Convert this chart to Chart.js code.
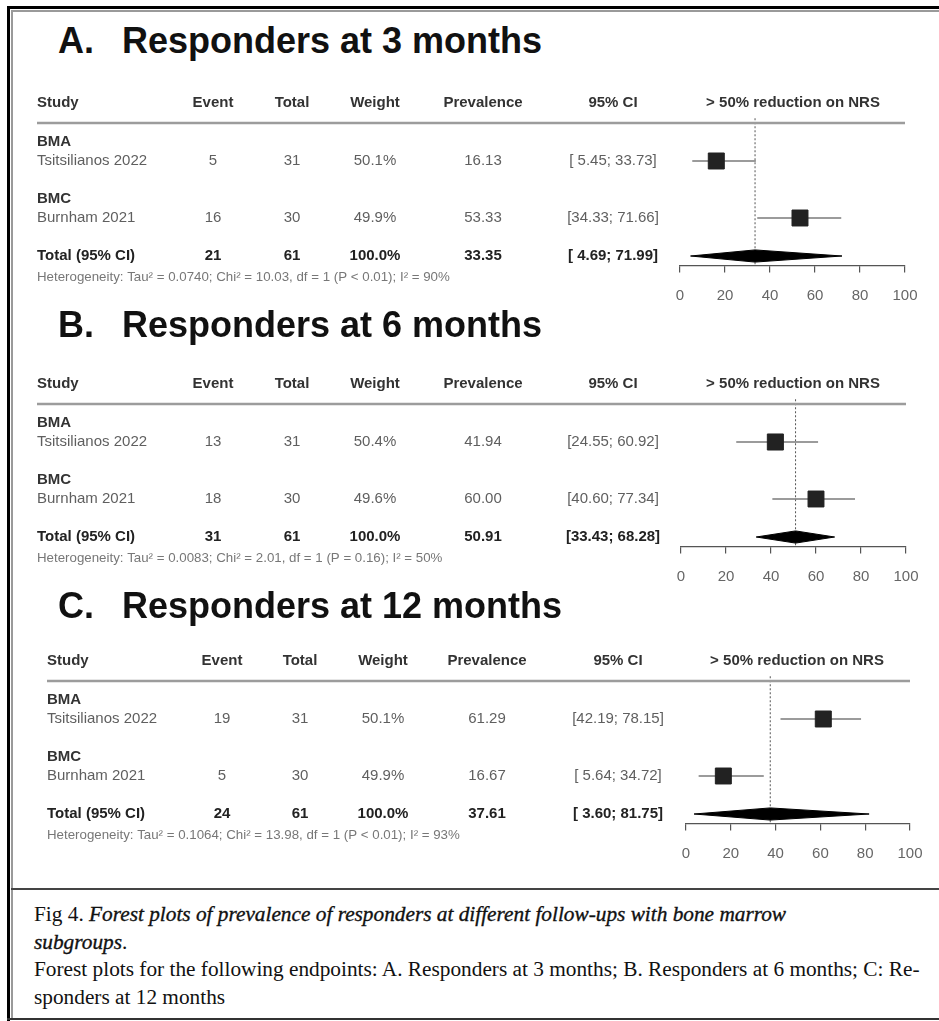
<!DOCTYPE html>
<html>
<head>
<meta charset="utf-8">
<title>Forest plots of responders</title>
<script src="https://cdn.jsdelivr.net/npm/chart.js@4.4.1/dist/chart.umd.min.js"></script>
<style>
  html, body { margin: 0; padding: 0; background: #fff; }
  body { width: 939px; height: 1021px; position: relative; overflow: hidden; }
  .rule { position: absolute; }
  .panel { position: absolute; left: 0; width: 939px; height: 250px; }
  .title { position: absolute; font: bold 36px/36px "Liberation Sans", Arial, sans-serif; color: #111; white-space: nowrap; }
  .caption { position: absolute; left: 34px; top: 901px; font: 21.3px/27.7px "Liberation Serif", "Times New Roman", serif; color: #111; white-space: nowrap; }
  .caption i { font-style: italic; -webkit-text-stroke: 0.35px #111; }
</style>
</head>
<body>
<!-- figure frame -->
<div class="rule" style="left:7px;top:6px;width:3px;height:1015px;background:#000"></div>
<div class="rule" style="left:7px;top:6px;width:932px;height:3px;background:#000"></div>
<div class="rule" style="left:11px;top:10px;width:2px;height:1009px;background:#9a9a9a"></div>
<div class="rule" style="left:11px;top:10px;width:928px;height:2px;background:#9a9a9a"></div>
<div class="rule" style="left:11px;top:888px;width:928px;height:2px;background:#444"></div>
<div class="rule" style="left:7px;top:1018px;width:932px;height:2px;background:#333"></div>

<div class="caption">Fig 4. <i>Forest plots of prevalence of responders at different follow-ups with bone marrow</i><br><i>subgroups</i>.<br>Forest plots for the following endpoints: A. Responders at 3 months; B. Responders at 6 months; C: Re-<br>sponders at 12 months</div>

<script>
// ---- data ----
const panelLetters = ["A.", "B.", "C."];
const panelTitles = ["Responders at 3 months", "Responders at 6 months", "Responders at 12 months"];
const columnHeaders = ["Study", "Event", "Total", "Weight", "Prevalence", "95% CI", "> 50% reduction on NRS"];
const subgroupNames = ["BMA", "BMC"];
const studyNames = ["Tsitsilianos 2022", "Burnham 2021"];
const xTicks = [0, 20, 40, 60, 80, 100];

// 3 months
const events3 = [5, 16];
const totals3 = [31, 30];
const weights3 = [50.1, 49.9];
const prev3 = [16.13, 53.33];
const lower3 = [5.45, 34.33];
const upper3 = [33.73, 71.66];

// 6 months
const events6 = [13, 18];
const totals6 = [31, 30];
const weights6 = [50.4, 49.6];
const prev6 = [41.94, 60.00];
const lower6 = [24.55, 40.60];
const upper6 = [60.92, 77.34];

// 12 months
const events12 = [19, 5];
const totals12 = [31, 30];
const weights12 = [50.1, 49.9];
const prev12 = [61.29, 16.67];
const lower12 = [42.19, 5.64];
const upper12 = [78.15, 34.72];

// pooled random-effects estimates (3, 6, 12 months)
const pooledEvents = [21, 31, 24];
const pooledTotals = [61, 61, 61];
const pooledPrev = [33.35, 50.91, 37.61];
const pooledLower = [4.69, 33.43, 3.60];
const pooledUpper = [71.99, 68.28, 81.75];

// heterogeneity statistics
const tau2 = ["0.0740", "0.0083", "0.1064"];
const chi2 = ["10.03", "2.01", "13.98"];
const pValues = ["P < 0.01", "P = 0.16", "P < 0.01"];
const i2 = [90, 50, 93];

// ---- layout of each panel (page pixels) ----
const layouts = [
  { row1: 142, study: 37, cols: [213, 292, 375, 483, 613, 793], ruleL: 37, ruleR: 905, plotL: 680, plotR: 905, titleBase: 53 },
  { row1: 423, study: 37, cols: [213, 292, 375, 483, 613, 793], ruleL: 37, ruleR: 906, plotL: 681, plotR: 906, titleBase: 337 },
  { row1: 700, study: 47, cols: [222, 300, 383, 487, 618, 797], ruleL: 47, ruleR: 910, plotL: 686, plotR: 910, titleBase: 618 }
];

const panels = [
  { events: events3, totals: totals3, weights: weights3, prev: prev3, lower: lower3, upper: upper3 },
  { events: events6, totals: totals6, weights: weights6, prev: prev6, lower: lower6, upper: upper6 },
  { events: events12, totals: totals12, weights: weights12, prev: prev12, lower: lower12, upper: upper12 }
];

const FONT = "'Liberation Sans', Arial, sans-serif";
const CANVAS_W = 939, CANVAS_H = 250, ROW_OFFSET = 80;
const subgroupRows = [1, 4];
const studyRows = [2, 5];
const totalRow = 7;

function fmtCI(lo, hi) {
  const l = lo < 10 ? " " + lo.toFixed(2) : lo.toFixed(2);
  return "[" + l + "; " + hi.toFixed(2) + "]";
}

function text(ctx, s, x, y, align, font, color) {
  ctx.font = font;
  ctx.fillStyle = color;
  ctx.textAlign = align;
  ctx.textBaseline = "middle";
  ctx.fillText(s, x, y);
}

function buildPanel(p, i) {
  const L = layouts[i];

  // panel heading
  const letter = document.createElement("div");
  letter.className = "title";
  letter.style.left = "58px";
  letter.style.top = (L.titleBase - 30.5) + "px";
  letter.textContent = panelLetters[i];
  document.body.appendChild(letter);
  const heading = document.createElement("div");
  heading.className = "title";
  heading.style.left = "122px";
  heading.style.top = (L.titleBase - 30.5) + "px";
  heading.textContent = panelTitles[i];
  document.body.appendChild(heading);

  const wrap = document.createElement("div");
  wrap.className = "panel";
  wrap.style.top = (L.row1 - ROW_OFFSET) + "px";
  const cv = document.createElement("canvas");
  cv.width = CANVAS_W; cv.height = CANVAS_H;
  cv.style.width = CANVAS_W + "px"; cv.style.height = CANVAS_H + "px";
  wrap.appendChild(cv);
  document.body.appendChild(wrap);

  const est = pooledPrev[i], lo = pooledLower[i], hi = pooledUpper[i];
  const datasets = [];

  // study squares, sized by weight
  p.prev.forEach((v, k) => datasets.push({
    data: [{ x: v, y: studyRows[k] }],
    showLine: false, pointStyle: "rect",
    pointRadius: 11.3 * Math.sqrt(p.weights[k] / 50),
    backgroundColor: "#222", borderColor: "#222", borderWidth: 1, order: 0
  }));
  // confidence intervals
  p.prev.forEach((v, k) => datasets.push({
    data: [{ x: p.lower[k], y: studyRows[k] }, { x: p.upper[k], y: studyRows[k] }],
    showLine: true, pointRadius: 0, borderColor: "#7a7a7a", borderWidth: 1.5, order: 1
  }));
  // pooled diamond: upper half filled down to lower half
  datasets.push({
    data: [{ x: lo, y: totalRow }, { x: est, y: totalRow - 0.32 }, { x: hi, y: totalRow }],
    showLine: true, pointRadius: 0, borderColor: "#000", borderWidth: 1,
    backgroundColor: "#000", fill: "+1", order: 1
  });
  datasets.push({
    data: [{ x: lo, y: totalRow }, { x: est, y: totalRow + 0.32 }, { x: hi, y: totalRow }],
    showLine: true, pointRadius: 0, borderColor: "#000", borderWidth: 1, fill: false, order: 1
  });
  // dotted line at the pooled estimate
  datasets.push({
    data: [{ x: est, y: -0.25 }, { x: est, y: 7.45 }],
    showLine: true, pointRadius: 0, borderColor: "#555", borderWidth: 1,
    borderDash: [2, 2], order: 2
  });

  const tablePlugin = {
    id: "forestTable" + i,
    afterDraw(chart) {
      const ctx = chart.ctx;
      const ys = chart.scales.y;
      const ry = r => ys.getPixelForValue(r);
      const hdrFont = "bold 15px " + FONT;
      const rowFont = "15px " + FONT;
      const dark = "#333", grey = "#5f5f5f";
      ctx.save();

      // column headers
      const hy = ry(-1.05);
      text(ctx, columnHeaders[0], L.study, hy, "left", hdrFont, dark);
      for (let c = 1; c < columnHeaders.length; c++) {
        text(ctx, columnHeaders[c], L.cols[c - 1], hy, "center", hdrFont, dark);
      }
      // header rule
      ctx.strokeStyle = "#9c9c9c";
      ctx.lineWidth = 2.5;
      ctx.beginPath();
      ctx.moveTo(L.ruleL, ry(0));
      ctx.lineTo(L.ruleR, ry(0));
      ctx.stroke();

      // subgroups and studies
      for (let k = 0; k < studyNames.length; k++) {
        text(ctx, subgroupNames[k], L.study, ry(subgroupRows[k]), "left", hdrFont, dark);
        const y = ry(studyRows[k]);
        text(ctx, studyNames[k], L.study, y, "left", rowFont, grey);
        text(ctx, String(p.events[k]), L.cols[0], y, "center", rowFont, grey);
        text(ctx, String(p.totals[k]), L.cols[1], y, "center", rowFont, grey);
        text(ctx, p.weights[k].toFixed(1) + "%", L.cols[2], y, "center", rowFont, grey);
        text(ctx, p.prev[k].toFixed(2), L.cols[3], y, "center", rowFont, grey);
        text(ctx, fmtCI(p.lower[k], p.upper[k]), L.cols[4], y, "center", rowFont, grey);
      }

      // pooled row
      const ty = ry(totalRow);
      const totFont = "bold 15px " + FONT, totCol = "#222";
      text(ctx, "Total (95% CI)", L.study, ty, "left", totFont, totCol);
      text(ctx, String(pooledEvents[i]), L.cols[0], ty, "center", totFont, totCol);
      text(ctx, String(pooledTotals[i]), L.cols[1], ty, "center", totFont, totCol);
      text(ctx, "100.0%", L.cols[2], ty, "center", totFont, totCol);
      text(ctx, pooledPrev[i].toFixed(2), L.cols[3], ty, "center", totFont, totCol);
      text(ctx, fmtCI(pooledLower[i], pooledUpper[i]), L.cols[4], ty, "center", totFont, totCol);

      // heterogeneity line
      const het = "Heterogeneity: Tau\u00B2 = " + tau2[i] + "; Chi\u00B2 = " + chi2[i] +
        ", df = 1 (" + pValues[i] + "); I\u00B2 = " + i2[i] + "%";
      text(ctx, het, L.study, ry(8.1), "left", "13.3px " + FONT, "#777");
      ctx.restore();
    }
  };

  new Chart(cv, {
    type: "scatter",
    data: { datasets },
    options: {
      responsive: false,
      animation: false,
      devicePixelRatio: 1,
      events: [],
      layout: { padding: { left: L.plotL, right: CANVAS_W - L.plotR, top: 51.5, bottom: 6.5 } },
      plugins: { legend: { display: false }, tooltip: { enabled: false } },
      scales: {
        x: {
          type: "linear", min: 0, max: 100, position: "bottom",
          afterBuildTicks: s => { s.ticks = xTicks.map(v => ({ value: v })); },
          afterFit: s => { s.height = 40; },
          ticks: { autoSkip: false, maxRotation: 0, padding: 14, color: "#666",
                   font: { family: "Liberation Sans", size: 15 } },
          grid: { drawOnChartArea: false, drawTicks: true, tickLength: 7, color: "#555", lineWidth: 1.2 },
          border: { display: true, color: "#555", width: 1.2 }
        },
        y: { type: "linear", min: -0.5, max: 7.5, reverse: true, display: false }
      }
    },
    plugins: [tablePlugin]
  });
}

panels.forEach(buildPanel);
</script>
</body>
</html>
